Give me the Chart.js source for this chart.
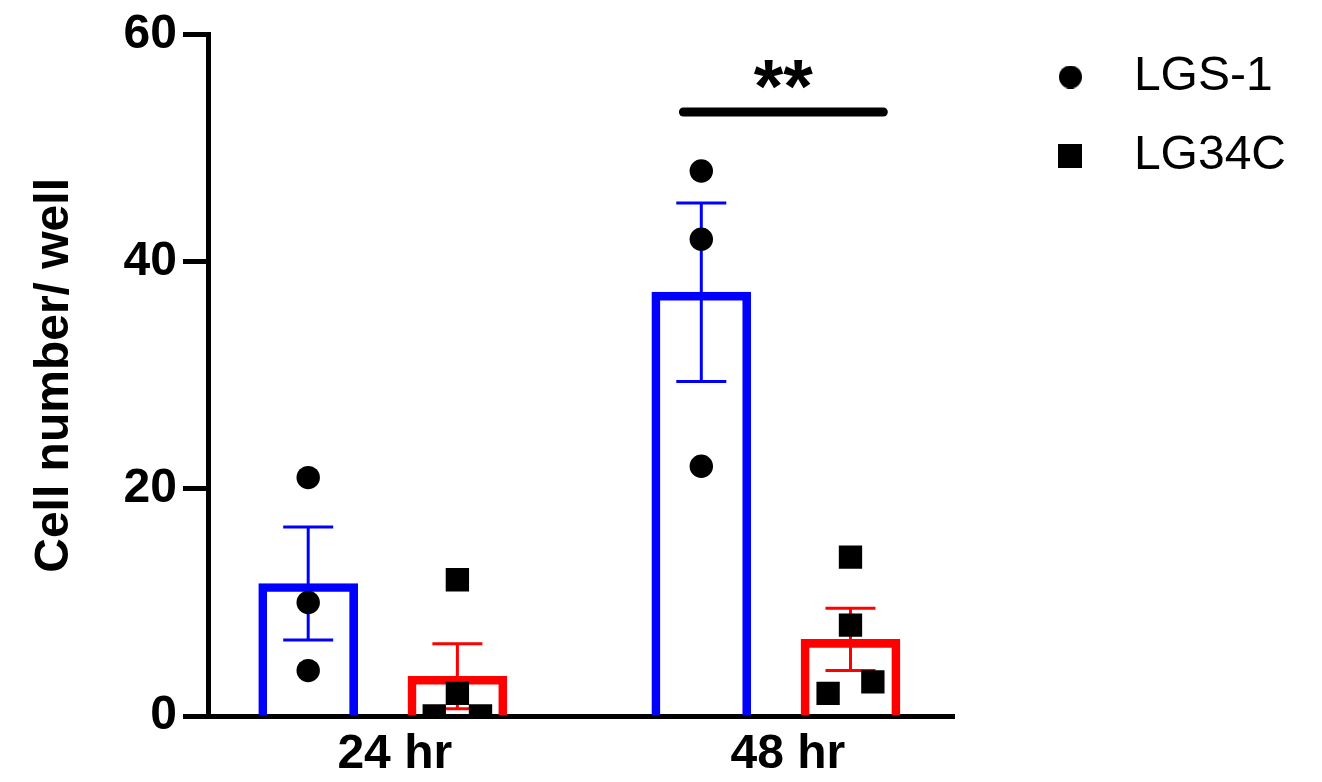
<!DOCTYPE html>
<html>
<head>
<meta charset="utf-8">
<title>Cell number per well</title>
<script src="https://cdn.jsdelivr.net/npm/chart.js@4/dist/chart.umd.min.js"></script>
<style>
  html, body { margin: 0; padding: 0; background: #fff; }
  canvas { display: block; }
</style>
</head>
<body>
<canvas id="chart" width="1322" height="782"></canvas>
<script>
// ---- data ----
const categories = ['24 hr', '48 hr'];
const seriesNames = ['LGS-1', 'LG34C'];

// bar heights (mean) and error bars (SEM) per time point
const lgs1Mean = [11.67, 37.33];
const lgs1Sem = [4.98, 7.86];
const lg34cMean = [3.5, 6.75];
const lg34cSem = [2.87, 2.75];

// individual wells per time point
const lgs1Wells24 = [21, 10, 4];
const lgs1Wells48 = [48, 42, 22];
const lg34cWells24 = [12, 2, 0, 0];
const lg34cWells48 = [14, 8, 3, 2];

const yTicks = [0, 20, 40, 60];
const sigText = '**';

// ---- layout ----
const groupX = [1.165, 3.80];      // group centres on the x axis
const barOffset = 0.5;             // bar centre distance from group centre
const lgs1Jitter24 = [0, 0, 0];
const lgs1Jitter48 = [0, 0, 0];
const lg34cJitter24 = [0, 0, -0.155, 0.155];
const lg34cJitter48 = [0, 0, 0.15, -0.15];
const sigSpan = [3.18, 4.52];
const sigLevel = 53.2;

const BLUE = '#0000FF';
const RED = '#FF0000';
const FONT = "'Liberation Sans', Arial, Helvetica, sans-serif";

Chart.defaults.font.family = FONT;
Chart.defaults.color = '#000';

function wellPoints(wellsByTime, jittersByTime, side) {
  const pts = [];
  wellsByTime.forEach((wells, t) => {
    wells.forEach((v, k) => {
      pts.push({ x: groupX[t] + side * barOffset + jittersByTime[t][k], y: v });
    });
  });
  return pts;
}

function errorData(means, sems, side) {
  const pts = [];
  means.forEach((m, i) => {
    const x = groupX[i] + side * barOffset;
    pts.push({ x, y: m - sems[i] }, { x, y: m + sems[i] }, { x, y: null });
  });
  return pts;
}

function barData(means, side) {
  return means.map((m, i) => ({ x: groupX[i] + side * barOffset, y: m }));
}

function markerCanvas(shape, size) {
  const c = document.createElement('canvas');
  c.width = size; c.height = size;
  const g = c.getContext('2d');
  g.fillStyle = '#000';
  if (shape === 'circle') {
    g.beginPath();
    g.arc(size / 2, size / 2, size / 2, 0, Math.PI * 2);
    g.fill();
  } else {
    g.fillRect(0, 0, size, size);
  }
  return c;
}
const legendMarks = [markerCanvas('circle', 23), markerCanvas('rect', 24)];

// "**" above the comparison line
const sigLabelPlugin = {
  id: 'sigLabel',
  afterDatasetsDraw(chart) {
    const { ctx, scales: { x, y } } = chart;
    const cx = x.getPixelForValue((sigSpan[0] + sigSpan[1]) / 2);
    const cy = y.getPixelForValue(sigLevel);
    ctx.save();
    ctx.font = 'bold 76px ' + FONT;
    ctx.fillStyle = '#000';
    ctx.textAlign = 'center';
    ctx.textBaseline = 'alphabetic';
    ctx.fillText(sigText, cx, cy);
    ctx.restore();
  }
};

new Chart(document.getElementById('chart'), {
  data: {
    datasets: [
      {
        type: 'scatter', label: seriesNames[0],
        data: wellPoints([lgs1Wells24, lgs1Wells48], [lgs1Jitter24, lgs1Jitter48], -1),
        pointStyle: 'circle', pointRadius: 11.7, backgroundColor: '#000', borderWidth: 0,
        order: 0, clip: 0
      },
      {
        type: 'scatter', label: seriesNames[1],
        data: wellPoints([lg34cWells24, lg34cWells48], [lg34cJitter24, lg34cJitter48], 1),
        pointStyle: 'rect', pointRadius: 16.5, backgroundColor: '#000', borderWidth: 0,
        order: 0, clip: 0
      },
      {
        type: 'line', label: 'sem-lgs1',
        data: errorData(lgs1Mean, lgs1Sem, -1),
        borderColor: BLUE, borderWidth: 3, spanGaps: false,
        pointStyle: 'line', pointRadius: 25, pointBorderWidth: 3, pointBorderColor: BLUE,
        order: 1
      },
      {
        type: 'line', label: 'sem-lg34c',
        data: errorData(lg34cMean, lg34cSem, 1),
        borderColor: RED, borderWidth: 3, spanGaps: false,
        pointStyle: 'line', pointRadius: 25, pointBorderWidth: 3, pointBorderColor: RED,
        order: 1
      },
      {
        type: 'line', label: 'sig',
        data: [{ x: sigSpan[0], y: sigLevel }, { x: sigSpan[1], y: sigLevel }],
        borderColor: '#000', borderWidth: 9, borderCapStyle: 'round', pointRadius: 0,
        order: 1
      },
      {
        type: 'bar', label: 'bar-lgs1',
        data: barData(lgs1Mean, -1),
        borderColor: BLUE, backgroundColor: 'rgba(255,255,255,0)', borderWidth: 8,
        barThickness: 99, grouped: false, order: 2
      },
      {
        type: 'bar', label: 'bar-lg34c',
        data: barData(lg34cMean, 1),
        borderColor: RED, backgroundColor: 'rgba(255,255,255,0)', borderWidth: 8,
        barThickness: 99, grouped: false, order: 2
      }
    ]
  },
  options: {
    responsive: false,
    animation: false,
    events: [],
    devicePixelRatio: 1,
    layout: { padding: { left: 0, right: 26, top: 22, bottom: 0 } },
    plugins: {
      title: { display: true, text: ' ', font: { size: 10, lineHeight: 1.2 }, padding: 0 },
      tooltip: { enabled: false },
      legend: {
        position: 'right',
        align: 'start',
        maxWidth: 420,
        labels: {
          usePointStyle: true,
          pointStyleWidth: 79,
          padding: 31,
          color: '#000',
          font: { size: 48 },
          generateLabels: () => seriesNames.map((name, i) => ({
            text: name, pointStyle: legendMarks[i], fillStyle: '#000', strokeStyle: '#000',
            lineWidth: 0, hidden: false, datasetIndex: i, fontColor: '#000'
          }))
        }
      }
    },
    scales: {
      x: {
        type: 'linear', min: 0, max: 5, offset: false,
        grid: { display: false, drawTicks: false },
        border: { display: true, color: '#000', width: 5 },
        afterBuildTicks: s => { s.ticks = groupX.map(v => ({ value: v })); },
        afterFit: s => { s.height = 66; },
        ticks: {
          autoSkip: false, maxRotation: 0, padding: 10, labelOffset: 12,
          font: { size: 48, weight: 'bold' }, color: '#000',
          callback: (v, i) => categories[i]
        }
      },
      y: {
        type: 'linear', position: 'left', min: 0, max: 60,
        afterBuildTicks: s => { s.ticks = yTicks.map(v => ({ value: v })); },
        grid: { display: true, drawOnChartArea: false, drawTicks: true, tickLength: 26, tickWidth: 5, tickColor: '#000' },
        border: { display: true, color: '#000', width: 5 },
        ticks: { padding: 6, font: { size: 48, weight: 'bold' }, color: '#000' },
        title: {
          display: true, text: 'Cell number/ well', color: '#000',
          font: { size: 48, weight: 'bold' }, padding: { top: 26, bottom: 34 }
        }
      },
      yPad: {
        type: 'linear', position: 'right', display: true,
        grid: { display: false }, border: { display: false }, ticks: { display: false },
        afterFit: s => { s.width = 45; }
      }
    }
  },
  plugins: [sigLabelPlugin]
});
</script>
</body>
</html>
